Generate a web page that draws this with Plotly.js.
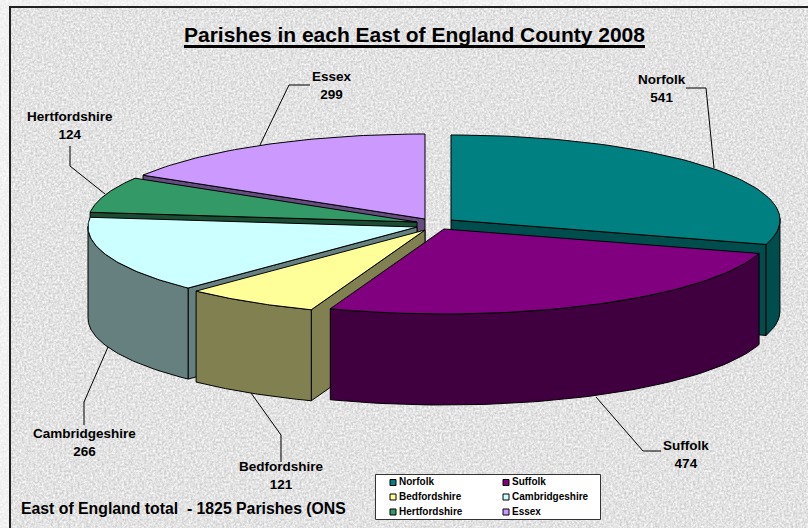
<!DOCTYPE html>
<html>
<head>
<meta charset="utf-8">
<script src="https://cdn.plot.ly/plotly-3.0.1.min.js"></script>
<style>
html,body{margin:0;padding:0;width:808px;height:528px;overflow:hidden;background:#ececec}
#outer,#inner,#chart{position:absolute}
#outer{left:0;top:0;width:808px;height:528px}
#inner{left:9px;top:6px;width:799px;height:522px}
#chart{left:0;top:0;width:808px;height:528px}
</style>
</head>
<body>
<div id="outer"></div>
<div id="inner"></div>
<div id="chart"></div>
<script>
// ---- data ----
const categories = ['Norfolk','Suffolk','Bedfordshire','Cambridgeshire','Hertfordshire','Essex'];
const parishes   = [541,474,121,266,124,299];
const topColors  = ['#008080','#800080','#FFFF99','#CCFFFF','#339966','#CC99FF'];
const wallColors = ['#004D4D','#400040','#808050','#668080','#1A4D33','#664D80'];
// ---- geometry of the tilted, exploded pie ----
const apexX = [451,444,425,417,417,425];
const apexY = [220,229,230,227,222,219];
const radiusX = 329, radiusY = 85, depth = 91;
const drawOrder = [5,4,0,3,2,1];
const labelX = [661.5,686,281,84,70,332];
const labelY = [88.5,454,475,442,125,85];
const leaderX = [[686,706,714],[661,643,596],[281,281,251],[84,84,108],[70,70,105],[310,289,260]];
const leaderY = [[88,88,168],[451,451,397],[462,435,393],[425,402,347],[146,166,194],[85,85,145]];
const legendX = [393,506,393,506,393,506];
const legendTextX = [399,512,399,512,399,512];
const legendY = [482.5,482.5,497,497,512,512];

const total = parishes.reduce((a,b)=>a+b,0);
const traces = [];
const lineStyle = {color:'#000',width:1};
function poly(xs,ys,color){
  traces.push({type:'scatter',mode:'lines',x:xs.concat(xs[0]),y:ys.concat(ys[0]),fill:'toself',
    fillcolor:color,line:lineStyle,hoverinfo:'skip',showlegend:false});
}
let acc = 0;
const spans = parishes.map(v=>{const a=acc/total*2*Math.PI; acc+=v; return [a,acc/total*2*Math.PI];});
function arcPts(i){
  const [a0,a1]=spans[i], n=60, xs=[], ys=[];
  for(let k=0;k<=n;k++){const t=a0+(a1-a0)*k/n;
    xs.push(apexX[i]+radiusX*Math.sin(t)); ys.push(apexY[i]-radiusY*Math.cos(t));}
  return {xs,ys};
}
drawOrder.forEach(i=>{
  const {xs,ys}=arcPts(i), cx=apexX[i], cy=apexY[i], n=xs.length-1, c=wallColors[i];
  // radial cut faces, only where they face the viewer
  if(Math.sin(spans[i][0])<-1e-6) poly([cx,xs[0],xs[0],cx],[cy,ys[0],ys[0]+depth,cy+depth],c);
  if(Math.sin(spans[i][1])>1e-6) poly([cx,xs[n],xs[n],cx],[cy,ys[n],ys[n]+depth,cy+depth],c);
  // outer wall: only the part facing the viewer
  const fx=[],fy=[];
  xs.forEach((x,k)=>{ if(Math.cos(spans[i][0]+(spans[i][1]-spans[i][0])*k/n)<=0.02){fx.push(x);fy.push(ys[k]);} });
  if(fx.length>1) poly(fx.concat(fx.slice().reverse()),fy.concat(fy.slice().reverse().map(y=>y+depth)),c);
  // top
  poly([cx].concat(xs),[cy].concat(ys),topColors[i]);
});
// leader lines
categories.forEach((c,i)=>traces.push({type:'scatter',mode:'lines',x:leaderX[i],y:leaderY[i],
  line:{color:'#000',width:1},hoverinfo:'skip',showlegend:false}));
// legend swatches and names
const font='Liberation Sans, Arial, sans-serif';
traces.push({type:'scatter',mode:'markers',x:legendX,y:legendY,
  marker:{symbol:'square',size:6,color:topColors,line:{color:'#000',width:1}},hoverinfo:'skip',showlegend:false,cliponaxis:false});
traces.push({type:'scatter',mode:'text',x:legendTextX,y:legendY,text:categories,
  textposition:'middle right',textfont:{family:font,size:10,color:'#000',weight:700},hoverinfo:'skip',showlegend:false,cliponaxis:false});

const annotations = categories.map((c,i)=>({xref:'x',yref:'y',x:labelX[i],y:labelY[i],showarrow:false,
  text:'<b>'+c+'</b><br><b>'+parishes[i]+'</b>',align:'center',xanchor:'center',yanchor:'middle',
  font:{family:font,size:13.5,color:'#000'}}));
annotations.push({xref:'x',yref:'y',x:414.5,y:34,showarrow:false,xanchor:'center',yanchor:'middle',
  text:'<b>Parishes in each East of England County 2008</b>',font:{family:font,size:21,color:'#000'}});
annotations.push({xref:'x',yref:'y',x:19,y:508,showarrow:false,xanchor:'left',yanchor:'middle',
  text:'<b>East of England total  - 1825 Parishes (ONS</b>',font:{family:font,size:15.8,color:'#000'}});

const shapes = [
  {type:'rect',xref:'x',yref:'y',x0:10,x1:830,y0:7,y1:560,line:{color:'#222',width:2},fillcolor:'rgba(0,0,0,0)',layer:'below'},
  {type:'rect',xref:'x',yref:'y',x0:375.5,x1:600.5,y0:474.5,y1:519.5,line:{color:'#333',width:1},fillcolor:'#fff',layer:'below'},
  {type:'line',xref:'x',yref:'y',x0:184,x1:645,y0:46.5,y1:46.5,line:{color:'#000',width:3},layer:'above'}
];
Plotly.newPlot('chart',traces,{
  width:808,height:528,margin:{l:0,r:0,t:0,b:0},
  paper_bgcolor:'rgba(0,0,0,0)',plot_bgcolor:'rgba(0,0,0,0)',showlegend:false,
  xaxis:{range:[0,808],visible:false,fixedrange:true},
  yaxis:{range:[528,0],visible:false,fixedrange:true},
  annotations,shapes
},{displayModeBar:false,staticPlot:true});

// granite paper background
function grain(lo,slope){
  const svg="<svg xmlns='http://www.w3.org/2000/svg' width='808' height='528'><filter id='n' x='0' y='0' width='100%' height='100%' color-interpolation-filters='sRGB'>"+
  "<feTurbulence type='fractalNoise' baseFrequency='0.45' numOctaves='2' seed='4'/>"+
  "<feColorMatrix type='matrix' values='1 0 0 0 0 1 0 0 0 0 1 0 0 0 0 0 0 0 0 1'/>"+
  "<feComponentTransfer><feFuncR type='linear' slope='"+slope+"' intercept='"+lo+"'/><feFuncG type='linear' slope='"+slope+"' intercept='"+lo+"'/><feFuncB type='linear' slope='"+slope+"' intercept='"+lo+"'/></feComponentTransfer>"+
  "</filter><rect width='808' height='528' filter='url(#n)'/></svg>";
  return 'url("data:image/svg+xml,'+encodeURIComponent(svg)+'")';
}
document.getElementById('outer').style.backgroundImage=grain(0.89,0.12);
document.getElementById('inner').style.backgroundImage=grain(0.74,0.3);
</script>
</body>
</html>
